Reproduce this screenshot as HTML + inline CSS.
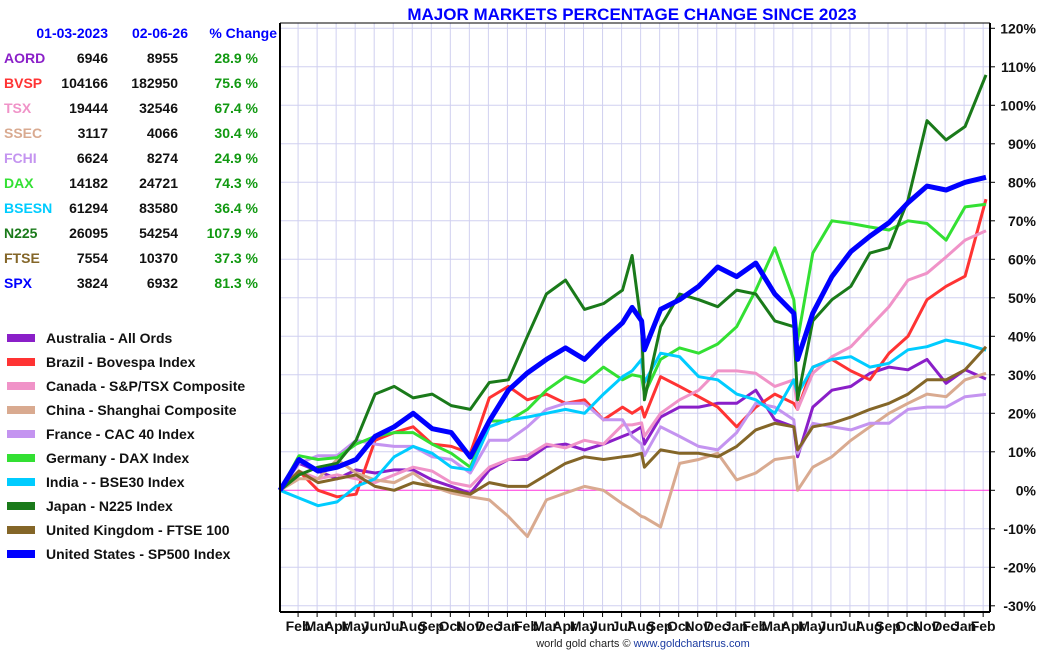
<!DOCTYPE html>
<html><head><meta charset="utf-8"><style>
html,body{margin:0;padding:0;background:#fff;}
svg{display:block;font-family:"Liberation Sans",Arial,sans-serif;}
</style></head><body>
<svg id="chart" width="1050" height="650" viewBox="0 0 1050 650">
<rect x="0" y="0" width="1050" height="650" fill="#fff"/>
<text x="632" y="20" text-anchor="middle" font-size="17" font-weight="bold" fill="#0000ff">MAJOR MARKETS PERCENTAGE CHANGE SINCE 2023</text>
<g id="grid"></g>
<g id="series"></g>
<g id="axes"></g>
<g id="table"></g>
<g id="legend"></g>
<text x="643" y="647" text-anchor="middle" font-size="11" fill="#222">world gold charts © <tspan fill="#1a3aa0">www.goldchartsrus.com</tspan></text>
</svg>
<script>
const times = [0,1,2,3,4,5,6,7,8,9,10,11,12,13,14,15,16,17,18,18.5,19,19.15,20,21,22,23,24,25,26,27,27.2,28,29,30,31,32,33,34,35,36,37.1];
const aord = [0,7,5,3,5.3,4.5,5.3,5.3,2.7,1,-0.8,5.3,8,8,11.4,12,10.5,12,14,15,16.5,12,19,21.6,21.6,22.6,22.6,26,18.3,16.5,8.7,21.6,26,27,30.4,32,31.3,34,27.8,31.3,28.9];
const bvsp = [0,5,0,-1.7,-1,13,15,16.5,12,11.4,9.6,24,27,23.5,25,22.6,23.5,18.3,21.6,20,21.6,19,29.5,27,24.3,21.6,16.5,21.6,25,22.6,21,32,34,31,28.7,35.6,40,49.5,53,55.6,75.6];
const tsx = [0,5,3,4,3,2,4,6,5,2,1,6,8,9,12,11,13,12,17,17,17.5,14,20,23.5,26,31,31,30.4,27,28.7,21,30.4,34.7,37.3,42.5,47.7,54.6,56.4,60.6,65,67.4];
const ssec = [0,3,3,8,4.5,2.7,2,4.5,1,-0.7,-1.7,-2.5,-6.8,-12,-2.5,-0.7,1,0,-3.5,-5,-6.8,-7,-9.5,7,8,9.6,2.7,4.5,8,8.7,0,6,8.7,13,16.5,20,22.6,25,24.3,28.7,30.4];
const fchi = [0,7,9,9,13,12,11.4,11.4,8.7,8,4.5,13,13,16.5,21,22.6,22.6,18.3,18.3,14,12,9,16.5,14,11.4,10.5,15,22.6,21.6,18.3,9.6,17.4,16.5,15.7,17.4,17.4,21,21.6,21.6,24.3,24.9];
const dax = [0,9,8,8.5,12,14,15,15,12,9.6,6,18,18,21,26,29.5,28,32,28.7,30,29.5,25,34,37,35.6,38,42.5,52,63,49.5,39,61.6,70,69.3,68.4,67.6,70,69.3,65,73.6,74.3];
const bsesn = [0,-2,-4,-3,1,3,8.7,11.4,9.6,6,5.3,16.5,18.3,19,20,21,20,25,29.5,31,34,28,35.6,34.7,29.5,28.7,25,23.5,20,28.7,25,32,34,34.7,32,33,36.5,37.3,39,38,36.4];
const n225 = [0,4,6,7,13,25,27,24,25,22,21,28,28.7,40,51,54.6,47,48.5,52,61,42.5,23.5,42.5,51,49.5,47.7,52,51,44,42.5,23.5,44,49.5,53,61.6,63,75.4,96,91,94.5,107.9];
const ftse = [0,5,2,3,4,1,0,2,1,0,-1,2,1,1,4,7,8.7,8,8.7,9,9.6,6,10.5,9.6,9.6,8.7,11.4,15.7,17.4,16.5,10.5,16.5,17.4,19,21,22.6,25,28.7,28.7,31.3,37.3];
const spx = [0,8,5,6,8,14,16.5,20,16,15,8.6,18,26,30.5,34,37,34,39,43.5,47.5,44,36.5,47,49.5,53,58,55.5,59,51,46,34,46,55.5,62,66,69.5,74.7,79,78,80,81.3];
const yTicks = [120,110,100,90,80,70,60,50,40,30,20,10,0,-10,-20,-30];
const monthLabels = ["Feb","Mar","Apr","May","Jun","Jul","Aug","Sep","Oct","Nov","Dec","Jan","Feb","Mar","Apr","May","Jun","Jul","Aug","Sep","Oct","Nov","Dec","Jan","Feb","Mar","Apr","May","Jun","Jul","Aug","Sep","Oct","Nov","Dec","Jan","Feb"];
const tableCodes = ["AORD","BVSP","TSX","SSEC","FCHI","DAX","BSESN","N225","FTSE","SPX"];
const tableStart = ["6946","104166","19444","3117","6624","14182","61294","26095","7554","3824"];
const tableEnd = ["8955","182950","32546","4066","8274","24721","83580","54254","10370","6932"];
const tableChange = ["28.9 %","75.6 %","67.4 %","30.4 %","24.9 %","74.3 %","36.4 %","107.9 %","37.3 %","81.3 %"];
const legendNames = ["Australia - All Ords","Brazil - Bovespa Index","Canada - S&P/TSX Composite","China - Shanghai Composite","France - CAC 40 Index","Germany - DAX Index","India -  - BSE30 Index","Japan - N225 Index","United Kingdom - FTSE 100","United States - SP500 Index"];

const colors = ["#8a1fc8","#ff3333","#f093c8","#d9aa90","#c494f0","#33e033","#00ccff","#1a7a1a","#846628","#0000ff"];
const seriesData = [aord,bvsp,tsx,ssec,fchi,dax,bsesn,n225,ftse,spx];
const NS = "http://www.w3.org/2000/svg";
const X0 = 280, X1 = 990, YT = 23, YB = 612;
const xs = t => X0 + t*19.03;
const ys = v => 490.3 - v*3.85;
function mk(tag, attrs, parent){const e=document.createElementNS(NS,tag);for(const k in attrs)e.setAttribute(k,attrs[k]);parent.appendChild(e);return e;}

const gridG = document.getElementById('grid');
for(let i=0;i<monthLabels.length;i++){
  const x = xs(i+0.95);
  const l = mk('line',{x1:x,x2:x,y1:YT,y2:YB,stroke:'#d0d0f0','stroke-width':1},gridG);
  
  
}
yTicks.forEach(v=>{
  const l = mk('line',{x1:X0,x2:X1,y1:ys(v),y2:ys(v),stroke:v===0?'#ff33dd':'#d0d0f0','stroke-width':1},gridG);
  
  
});

const seriesG = document.getElementById('series');
const drawOrder = [0,1,2,3,4,5,6,8,7,9];
drawOrder.forEach(i=>{
  const d = seriesData[i].map((v,k)=>(k?'L':'M')+xs(times[k]).toFixed(1)+','+ys(v).toFixed(1)).join('');
  const p = mk('path',{d:d,fill:'none',stroke:colors[i],'stroke-width':i===9?5:3,'stroke-linejoin':'round'},seriesG);
  
  
});

const axesG = document.getElementById('axes');
const leftLine = mk('line',{x1:X0,x2:X0,y1:YT,y2:YB,stroke:'#000','stroke-width':2},axesG);


const rightLine = mk('line',{x1:X1,x2:X1,y1:YT,y2:YB,stroke:'#000','stroke-width':2},axesG);


const bottomLine = mk('line',{x1:X0,x2:X1,y1:YB,y2:YB,stroke:'#000','stroke-width':2},axesG);


const topBorder = mk('line',{x1:X0,x2:X1,y1:YT,y2:YT,stroke:'#000','stroke-width':1},axesG);


yTicks.forEach(v=>{
  const tk = mk('line',{x1:X1,x2:X1+5,y1:ys(v),y2:ys(v),stroke:'#000','stroke-width':1},axesG);
  
  
  const t = mk('text',{x:1036,y:ys(v)+5,'text-anchor':'end','font-size':14,'font-weight':'bold',fill:'#111'},axesG);
  t.textContent = v+'%';
  
  
});
monthLabels.forEach((m,i)=>{
  const x = xs(i+0.95);
  const tk = mk('line',{x1:x,x2:x,y1:YB,y2:YB+5,stroke:'#000','stroke-width':1},axesG);
  
  
  const t = mk('text',{x:x,y:631,'text-anchor':'middle','font-size':14,'font-weight':'bold',fill:'#111'},axesG);
  t.textContent = m;
  
  
});

const tableG = document.getElementById('table');
[["01-03-2023",108],["02-06-26",188],["% Change",277]].forEach(h=>{
  const t = mk('text',{x:h[1],y:38,'text-anchor':'end','font-size':14,'font-weight':'bold',fill:'#0000ff'},tableG);
  t.textContent = h[0];
  
  
});
tableCodes.forEach((c,i)=>{
  const y = 63 + i*25;
  const a = mk('text',{x:4,y:y,'font-size':14,'font-weight':'bold',fill:colors[i]},tableG);
  a.textContent = c;
  
  
  const b = mk('text',{x:108,y:y,'text-anchor':'end','font-size':14,'font-weight':'bold',fill:'#111'},tableG);
  b.textContent = tableStart[i];
  
  
  const e = mk('text',{x:178,y:y,'text-anchor':'end','font-size':14,'font-weight':'bold',fill:'#111'},tableG);
  e.textContent = tableEnd[i];
  
  
  const p = mk('text',{x:258,y:y,'text-anchor':'end','font-size':14,'font-weight':'bold',fill:'#119911'},tableG);
  p.textContent = tableChange[i];
  
  
});

const legendG = document.getElementById('legend');
legendNames.forEach((n,i)=>{
  const y = 338 + i*24;
  const r = mk('rect',{x:7,y:y-4,width:28,height:8,fill:colors[i]},legendG);
  
  
  const t = mk('text',{x:46,y:y+5,'font-size':14,'font-weight':'bold',fill:'#111'},legendG);
  t.textContent = n;
  
  
});
</script>
</body></html>
